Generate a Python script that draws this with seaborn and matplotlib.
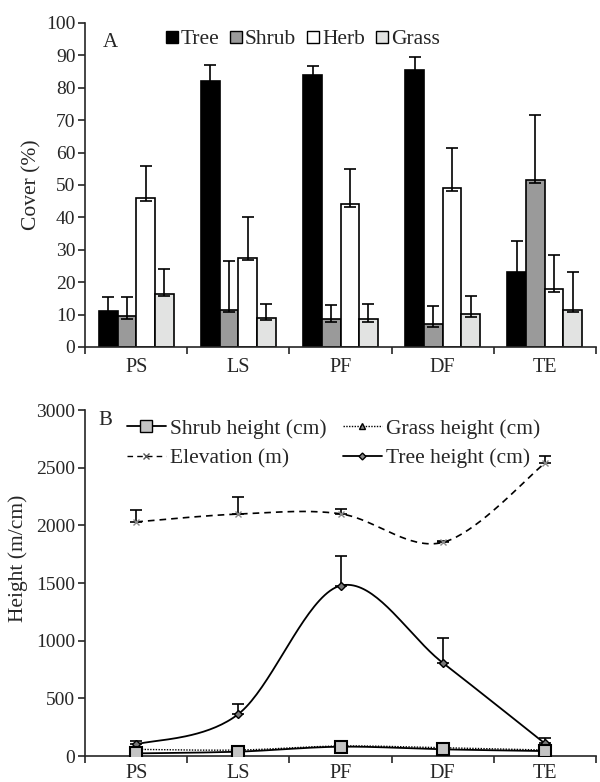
import numpy as np
import pandas as pd
import matplotlib
matplotlib.use("Agg")
import matplotlib.pyplot as plt
from matplotlib.lines import Line2D
import seaborn as sns

sites = ["PS", "LS", "PF", "DF", "TE"]
layers = ["Tree", "Shrub", "Herb", "Grass"]
tree_cover = [11.0, 82.0, 83.8, 85.5, 23.2]
shrub_cover = [9.5, 11.5, 8.5, 7.0, 51.5]
herb_cover = [46.0, 27.5, 44.0, 49.0, 17.8]
grass_cover = [16.5, 9.0, 8.5, 10.2, 11.5]
tree_cover_err = [4.3, 5.0, 3.0, 4.0, 9.5]
shrub_cover_err = [5.8, 15.0, 4.5, 5.5, 20.0]
herb_cover_err = [10.0, 12.5, 11.0, 12.3, 10.7]
grass_cover_err = [7.5, 4.3, 4.7, 5.5, 11.5]

elevation = [2030, 2098, 2100, 1852, 2538]
elevation_err = [100, 145, 40, 12, 63]
tree_height = [101, 364, 1477, 809, 110]
tree_height_err = [29, 84, 260, 217, 49]
shrub_height = [23, 38, 81, 58, 43]
shrub_height_err = [10, 10, 45, 15, 10]
grass_height = [58, 52, 87, 72, 52]
grass_height_err = [0, 0, 0, 0, 0]

cover_ticks = list(range(0, 101, 10))
height_ticks = list(range(0, 3001, 500))

sns.set_style("ticks")
plt.rcParams["font.family"] = ["Liberation Serif", "DejaVu Serif"]
plt.rcParams["font.size"] = 14
plt.rcParams["axes.linewidth"] = 1.2

fig = plt.figure(figsize=(6.0, 7.82), dpi=100)
axA = fig.add_axes([0.142, 0.5563, 0.851, 0.4143])
axB = fig.add_axes([0.142, 0.0332, 0.851, 0.4425])

# ---------- Panel A ----------
df = pd.DataFrame({
    "site": np.repeat(sites, 4),
    "layer": layers * 5,
    "cover": [v for i in range(5) for v in (tree_cover[i], shrub_cover[i], herb_cover[i], grass_cover[i])],
})
pal = {"Tree": "#000000", "Shrub": "#9a9a9a", "Herb": "#ffffff", "Grass": "#e2e3e2"}
sns.barplot(data=df, x="site", y="cover", hue="layer", hue_order=layers, order=sites,
            palette=pal, width=0.73, edgecolor="black", linewidth=1.2, errorbar=None,
            legend=False, ax=axA, zorder=2)
errs = [tree_cover_err, shrub_cover_err, herb_cover_err, grass_cover_err]
for cont, err in zip(axA.containers, errs):
    xs = [p.get_x() + p.get_width() / 2 for p in cont.patches]
    hs = [p.get_height() for p in cont.patches]
    axA.errorbar(xs, hs, yerr=[np.full(len(hs), 0.8), err], fmt="none", ecolor="black",
                 elinewidth=1.2, capsize=4, capthick=1.2, zorder=3)
axA.set_xlim(-0.5, 4.5)
axA.set_ylim(0, 100)
axA.set_yticks(cover_ticks)
axA.set_xticks(np.arange(-0.5, 4.6, 1.0), minor=False)
axA.set_xticklabels([])
axA.set_xticks(range(5), minor=True)
axA.set_xticklabels(sites, minor=True)
axA.tick_params(axis="x", which="minor", length=0, pad=8, labelsize=14.5)
axA.tick_params(axis="x", which="major", length=5, width=1.2, direction="out")
axA.tick_params(axis="y", length=5, width=1.2, labelsize=14, pad=2)
axA.set_xlabel("")
axA.set_ylabel("Cover (%)", fontsize=15.5)
axA.yaxis.set_label_coords(-0.086, 0.5)
sns.despine(ax=axA)
axA.text(0.035, 0.94, "A", transform=axA.transAxes, fontsize=15, va="center")
handlesA = [Line2D([], [], marker="s", ls="none", markersize=8, markerfacecolor=pal[l],
                   markeredgecolor="black", markeredgewidth=1.0) for l in layers]
axA.legend(handlesA, layers, ncol=4, frameon=False, loc="center left",
           bbox_to_anchor=(0.14, 0.95), handlelength=0.6, handletextpad=0.1,
           columnspacing=0.5, fontsize=15.5, borderaxespad=0)

# ---------- Panel B ----------
xpos = np.arange(5, dtype=float)


def smooth(x, y, n=40):
    x = np.asarray(x, float)
    y = np.asarray(y, float)
    P = np.column_stack([x, y])
    ext = np.vstack([P[0], P, P[-1]])
    out = []
    for i in range(len(P) - 1):
        p0, p1, p2, p3 = ext[i], ext[i + 1], ext[i + 2], ext[i + 3]
        c1 = p1 + (p2 - p0) / 6.0
        c2 = p2 - (p3 - p1) / 6.0
        t = np.linspace(0, 1, n)[:, None]
        seg = ((1 - t) ** 3) * p1 + 3 * ((1 - t) ** 2) * t * c1 + 3 * (1 - t) * t ** 2 * c2 + t ** 3 * p2
        out.append(seg if i == 0 else seg[1:])
    out = np.vstack(out)
    return out[:, 0], out[:, 1]


series = [
    ("Elevation (m)", elevation, elevation_err, (0, (4, 3)), "x", 5, "#888888", "#888888", 1.2),
    ("Tree height (cm)", tree_height, tree_height_err, "-", "D", 4, "#777777", "black", 1.3),
    ("Grass height (cm)", grass_height, grass_height_err, (0, (1, 1)), "^", 5, "#aaaaaa", "black", 1.0),
    ("Shrub height (cm)", shrub_height, shrub_height_err, "-", "s", 8.5, "#c4c4c4", "black", 1.3),
]
for name, vals, err, ls, mk, ms, mfc, mec, lw in series:
    sx, sy = smooth(xpos, vals)
    sns.lineplot(x=sx, y=sy, ax=axB, color="black", linestyle=ls, linewidth=lw,
                 sort=False, estimator=None, zorder=2)
    if any(e > 0 for e in err):
        axB.errorbar(xpos, vals, yerr=[np.zeros(5), err], fmt="none", ecolor="black",
                     elinewidth=1.2, capsize=4, capthick=1.2, zorder=3)
    axB.plot(xpos, vals, ls="none", marker=mk, markersize=ms, markerfacecolor=mfc,
             markeredgecolor=mec, markeredgewidth=1.5 if mk == "s" else 1.0, zorder=4)

axB.set_xlim(-0.5, 4.5)
axB.set_ylim(0, 3000)
axB.set_yticks(height_ticks)
axB.set_xticks(np.arange(-0.5, 4.6, 1.0), minor=False)
axB.set_xticklabels([])
axB.set_xticks(range(5), minor=True)
axB.set_xticklabels(sites, minor=True)
axB.tick_params(axis="x", which="minor", length=0, pad=6, labelsize=14.5)
axB.tick_params(axis="x", which="major", length=5, width=1.2, direction="out")
axB.tick_params(axis="y", length=5, width=1.2, labelsize=14, pad=2)
axB.set_ylabel("Height (m/cm)", fontsize=15.5)
axB.yaxis.set_label_coords(-0.112, 0.572)
sns.despine(ax=axB)
axB.text(0.025, 0.97, "B", transform=axB.transAxes, fontsize=15, va="center")

def h(ls, mk, ms, mfc, mec, lw):
    return Line2D([], [], color="black", linestyle=ls, linewidth=lw, marker=mk, markersize=ms,
                  markerfacecolor=mfc, markeredgecolor=mec)

handlesB = [
    h("-", "s", 8, "#c4c4c4", "black", 1.3),
    h((0, (4, 3)), "x", 4, "#555555", "#555555", 1.0),
    h((0, (1, 1)), "^", 4, "#888888", "black", 1.0),
    h("-", "D", 3.5, "#888888", "black", 1.3),
]
labelsB = ["Shrub height (cm)", "Elevation (m)", "Grass height (cm)", "Tree height (cm)"]
axB.legend(handlesB, labelsB, ncol=2, frameon=False, loc="upper left",
           bbox_to_anchor=(0.082, 0.975), handlelength=1.8, handletextpad=0.2,
           columnspacing=0.75, labelspacing=0.45, fontsize=15.5, borderaxespad=0,
           borderpad=0)

fig.savefig("out.png", dpi=100)
